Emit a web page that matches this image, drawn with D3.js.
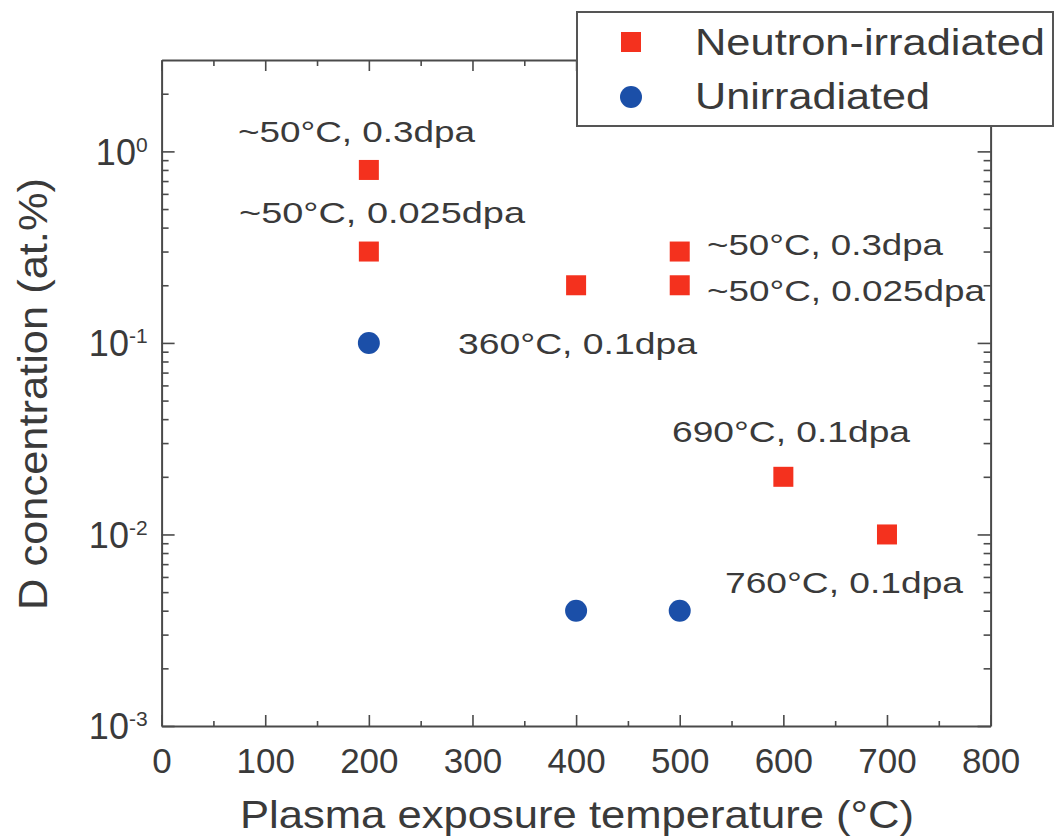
<!DOCTYPE html>
<html>
<head>
<meta charset="utf-8">
<script src="https://cdn.jsdelivr.net/npm/d3@7"></script>
<style>
  html, body { margin: 0; padding: 0; background: #fff; }
  svg { display: block; }
  text { font-family: "Liberation Sans", Arial, Helvetica, sans-serif; fill: #3a3a3a; }
</style>
</head>
<body>
<svg id="chart" width="1058" height="838"></svg>
<script>
// ---------------- data ----------------
const neutronTemps = [200, 200, 400, 500, 500, 600, 700];
const neutronD     = [0.8, 0.3, 0.2, 0.3, 0.2, 0.02, 0.01];
const unirrTemps   = [200, 400, 500];
const unirrD       = [0.1, 0.004, 0.004];

const seriesNames = ["Neutron-irradiated", "Unirradiated"];
const xTickValues = [0, 100, 200, 300, 400, 500, 600, 700, 800];
const xMinorTicks = [50, 150, 250, 350, 450, 550, 650, 750];
const yTickValues = [0.001, 0.01, 0.1, 1];
const yTickExponents = ["-3", "-2", "-1", "0"];
const xTitle = "Plasma exposure temperature (\u00B0C)";
const yTitle = "D concentration (at.%)";
const annotationTexts = [
  "~50\u00B0C, 0.3dpa",
  "~50\u00B0C, 0.025dpa",
  "360\u00B0C, 0.1dpa",
  "~50\u00B0C, 0.3dpa",
  "~50\u00B0C, 0.025dpa",
  "690\u00B0C, 0.1dpa",
  "760\u00B0C, 0.1dpa"
];

// ---------------- layout (pixels) ----------------
const plot = { left: 161.6, right: 990.6, top: 60, bottom: 726 };
const annotationLayout = [
  { x: 238, y: 142, w: 237 },
  { x: 239, y: 223, w: 286 },
  { x: 458, y: 354, w: 239 },
  { x: 707, y: 255, w: 236 },
  { x: 707, y: 301, w: 278 },
  { x: 672, y: 442, w: 238 },
  { x: 725, y: 593, w: 238 }
];
const colors = { red: "#f4311e", blue: "#1b4fa8", axis: "#4a4a4a" };

const svg = d3.select("#chart");

const x = d3.scaleLinear().domain([0, 800]).range([plot.left, plot.right]);
const y = d3.scaleLog().domain([0.001, 3]).range([plot.bottom, plot.top]);

// minor log ticks
const yMinor = [];
[0.001, 0.01, 0.1, 1].forEach(dec => {
  for (let k = 2; k <= 9; k++) {
    const v = dec * k;
    if (v < 3) yMinor.push(v);
  }
});

function styleAxis(g) {
  g.selectAll("path.domain").attr("stroke", colors.axis).attr("stroke-width", 2);
  g.selectAll(".tick line").attr("stroke", colors.axis).attr("stroke-width", 1.6);
}

// bottom axis (major with labels)
const gb = svg.append("g").attr("transform", `translate(0,${plot.bottom})`)
  .call(d3.axisBottom(x).tickValues(xTickValues).tickSizeInner(-11).tickSizeOuter(0).tickPadding(22)
    .tickFormat(d3.format("d")));
styleAxis(gb);
gb.selectAll(".tick text").attr("font-size", 35).attr("fill", "#3a3a3a")
  .style("font-family", "'Liberation Sans', Arial, sans-serif");
// bottom minor
const gbm = svg.append("g").attr("transform", `translate(0,${plot.bottom})`)
  .call(d3.axisBottom(x).tickValues(xMinorTicks).tickSizeInner(-5).tickSizeOuter(0).tickFormat(""));
styleAxis(gbm);
gbm.select("path.domain").remove();

// top axis
const gt = svg.append("g").attr("transform", `translate(0,${plot.top})`)
  .call(d3.axisTop(x).tickValues(xTickValues).tickSizeInner(-11).tickSizeOuter(0).tickFormat(""));
styleAxis(gt);
const gtm = svg.append("g").attr("transform", `translate(0,${plot.top})`)
  .call(d3.axisTop(x).tickValues(xMinorTicks).tickSizeInner(-6).tickSizeOuter(0).tickFormat(""));
styleAxis(gtm);
gtm.select("path.domain").remove();

// left axis
const gl = svg.append("g").attr("transform", `translate(${plot.left},0)`)
  .call(d3.axisLeft(y).tickValues(yTickValues).tickSizeInner(-13).tickSizeOuter(0).tickPadding(14)
    .tickFormat(""));
styleAxis(gl);
gl.selectAll(".tick text").each(function(d, i) {
  const t = d3.select(this);
  t.text(null).attr("font-size", 36).attr("dy", "0.36em").attr("text-anchor", "end")
    .style("font-family", "'Liberation Sans', Arial, sans-serif").attr("fill", "#3a3a3a");
  t.append("tspan").text("10");
  t.append("tspan").attr("font-size", 21).attr("dy", "-0.62em").text(yTickExponents[yTickValues.indexOf(d)]);
});
const glm = svg.append("g").attr("transform", `translate(${plot.left},0)`)
  .call(d3.axisLeft(y).tickValues(yMinor).tickSizeInner(-7).tickSizeOuter(0).tickFormat(""));
styleAxis(glm);
glm.select("path.domain").remove();

// right axis
const gr = svg.append("g").attr("transform", `translate(${plot.right},0)`)
  .call(d3.axisRight(y).tickValues(yTickValues).tickSizeInner(-13).tickSizeOuter(0).tickFormat(""));
styleAxis(gr);
const grm = svg.append("g").attr("transform", `translate(${plot.right},0)`)
  .call(d3.axisRight(y).tickValues(yMinor).tickSizeInner(-7).tickSizeOuter(0).tickFormat(""));
styleAxis(grm);
grm.select("path.domain").remove();

// axis titles
svg.append("text")
  .attr("x", 240).attr("y", 828)
  .attr("font-size", 39)
  .attr("textLength", 674).attr("lengthAdjust", "spacingAndGlyphs")
  .text(xTitle);
svg.append("text")
  .attr("transform", "translate(47,610) rotate(-90)")
  .attr("font-size", 40)
  .attr("textLength", 432).attr("lengthAdjust", "spacingAndGlyphs")
  .text(yTitle);

// annotations
svg.append("g").selectAll("text").data(annotationTexts).join("text")
  .attr("x", (d, i) => annotationLayout[i].x)
  .attr("y", (d, i) => annotationLayout[i].y)
  .attr("font-size", 29)
  .attr("textLength", (d, i) => annotationLayout[i].w)
  .attr("lengthAdjust", "spacingAndGlyphs")
  .text(d => d);

// points
const neutron = neutronTemps.map((t, i) => ({ t, d: neutronD[i] }));
const unirr = unirrTemps.map((t, i) => ({ t, d: unirrD[i] }));
const sq = 20;
svg.append("g").selectAll("rect").data(neutron).join("rect")
  .attr("x", p => x(p.t) - sq / 2)
  .attr("y", p => y(p.d) - sq / 2)
  .attr("width", sq).attr("height", sq)
  .attr("fill", colors.red);
svg.append("g").selectAll("circle").data(unirr).join("circle")
  .attr("cx", p => x(p.t))
  .attr("cy", p => y(p.d))
  .attr("r", 11)
  .attr("fill", colors.blue);

// legend
const lg = svg.append("g");
lg.append("rect").attr("x", 577).attr("y", 12).attr("width", 476).attr("height", 114)
  .attr("fill", "#fff").attr("stroke", "#555").attr("stroke-width", 2);
lg.append("rect").attr("x", 621).attr("y", 32).attr("width", 20).attr("height", 20).attr("fill", colors.red);
lg.append("circle").attr("cx", 631).attr("cy", 97).attr("r", 11).attr("fill", colors.blue);
lg.append("text").attr("x", 695).attr("y", 55).attr("font-size", 37.5)
  .attr("textLength", 350).attr("lengthAdjust", "spacingAndGlyphs").text(seriesNames[0]);
lg.append("text").attr("x", 695).attr("y", 109).attr("font-size", 37.5)
  .attr("textLength", 235).attr("lengthAdjust", "spacingAndGlyphs").text(seriesNames[1]);
</script>
</body>
</html>
